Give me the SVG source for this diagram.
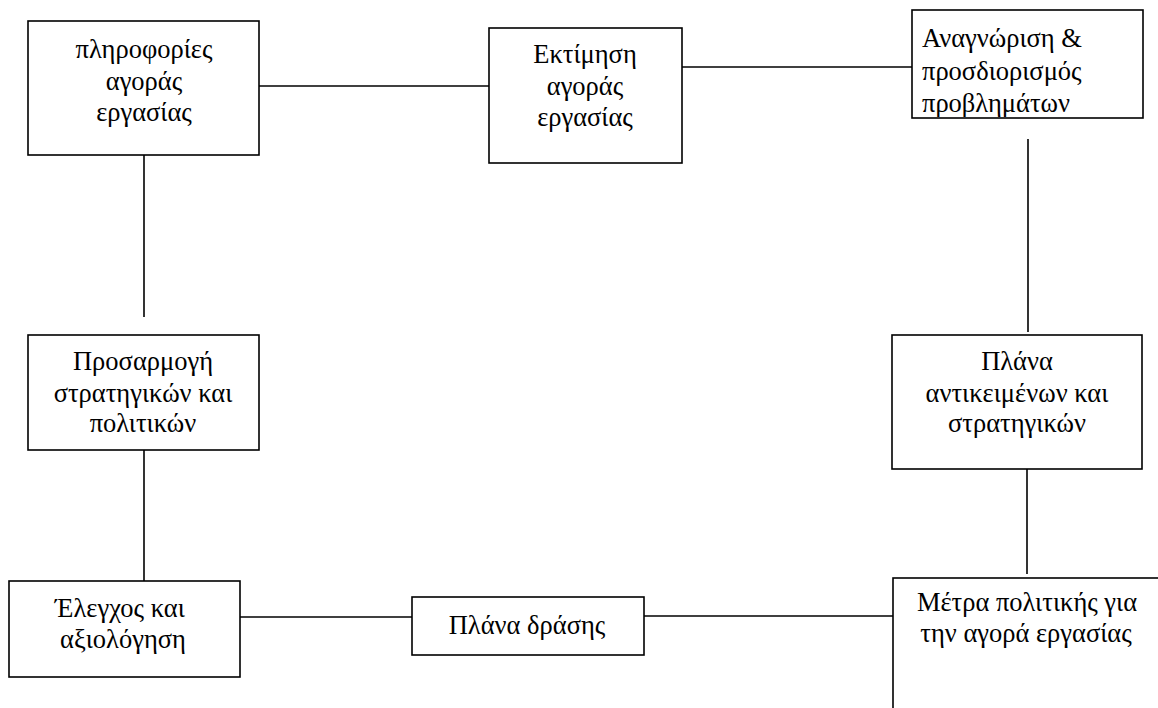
<svg xmlns="http://www.w3.org/2000/svg" width="1158" height="708" viewBox="0 0 1158 708">
<style>
.box{fill:#fff;stroke:#000;stroke-width:1.6}
.ln{stroke:#000;stroke-width:1.6;fill:none}
text{font-family:'Liberation Serif','DejaVu Serif',serif;font-size:26.5px;fill:#000}
.c{text-anchor:middle}
</style>
<defs>
<clipPath id="clip3"><rect x="913" y="11" width="229" height="106"/></clipPath>
</defs>
<g id="connectors">
<line class="ln" x1="259" y1="86" x2="489" y2="86"/>
<line class="ln" x1="682" y1="67" x2="912" y2="67"/>
<line class="ln" x1="144" y1="143" x2="144" y2="317"/>
<line class="ln" x1="1028" y1="139" x2="1028" y2="332"/>
<line class="ln" x1="1027" y1="465" x2="1027" y2="574"/>
<line class="ln" x1="144" y1="446" x2="144" y2="581"/>
<line class="ln" x1="240" y1="617" x2="412" y2="617"/>
<line class="ln" x1="644" y1="616" x2="893" y2="616"/>
</g>
<g id="n1">
<rect class="box" x="28" y="21" width="231" height="134"/>
<text class="c" x="144" y="58">πληροφορίες</text>
<text class="c" x="144" y="90">αγοράς</text>
<text class="c" x="144" y="121">εργασίας</text>
</g>
<g id="n2">
<rect class="box" x="489" y="28" width="193" height="135"/>
<text class="c" x="585" y="63">Εκτίμηση</text>
<text class="c" x="585" y="95">αγοράς</text>
<text class="c" x="585" y="126">εργασίας</text>
</g>
<g id="n3">
<rect class="box" x="912" y="10" width="231" height="108"/>
<g clip-path="url(#clip3)">
<text x="922" y="47">Αναγνώριση &amp;</text>
<text x="922" y="80">προσδιορισμός</text>
<text x="922" y="112">προβλημάτων</text>
</g>
</g>
<g id="n4">
<rect class="box" x="892" y="335" width="250" height="134"/>
<text class="c" x="1017" y="370">Πλάνα</text>
<text class="c" x="1017" y="402">αντικειμένων και</text>
<text class="c" x="1017" y="432">στρατηγικών</text>
</g>
<g id="n5">
<rect class="box" x="893" y="578" width="280" height="150"/>
<text class="c" x="1027" y="611">Μέτρα πολιτικής για</text>
<text class="c" x="1026" y="642">την αγορά εργασίας</text>
</g>
<g id="n6">
<rect class="box" x="412" y="597" width="232" height="58"/>
<text class="c" x="527" y="634">Πλάνα δράσης</text>
</g>
<g id="n7">
<rect class="box" x="9" y="581" width="231" height="96"/>
<text class="c" x="120" y="617">Έλεγχος και</text>
<text class="c" x="123" y="648">αξιολόγηση</text>
</g>
<g id="n8">
<rect class="box" x="28" y="335" width="231" height="115"/>
<text class="c" x="143" y="370">Προσαρμογή</text>
<text class="c" x="143" y="402">στρατηγικών και</text>
<text class="c" x="143" y="432">πολιτικών</text>
</g>
</svg>
